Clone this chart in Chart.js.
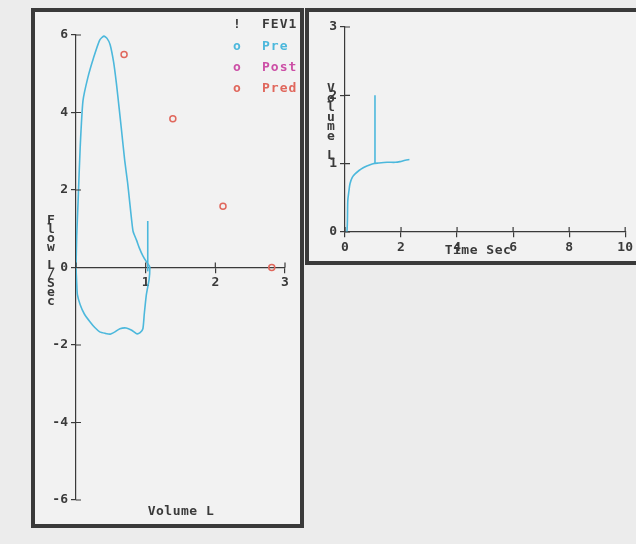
<!DOCTYPE html>
<html>
<head>
<meta charset="utf-8">
<script src="https://cdn.jsdelivr.net/npm/chart.js@4.4.0/dist/chart.umd.min.js"></script>
<style>
   body { margin: 0; background: #ececec; width: 636px; height: 544px; overflow: hidden; position: relative; }
   .box { position: absolute; border: 4px solid #3a3a3a; background: #f2f2f2; box-sizing: border-box; overflow: hidden; }
   #boxLeft { left: 31px; top: 8px; width: 273px; height: 520px; }
   #boxRight { left: 305px; top: 8px; width: 340px; height: 257px; }
   canvas { position: absolute; left: 0; top: 0; }
</style>
</head>
<body>
<div class="box" id="boxLeft"><canvas id="chart__loop" width="265" height="512"></canvas></div>
<div class="box" id="boxRight"><canvas id="chart__time" width="327" height="249"></canvas></div>
<script>
// FLOW-VOLUME LOOP (Pre)
const loopVolume = [0, 0.01, 0.03, 0.06, 0.1, 0.17, 0.25, 0.34, 0.4, 0.45, 0.49, 0.54, 0.58, 0.62, 0.65, 0.7, 0.74, 0.77, 0.8, 0.82, 0.87, 0.91, 0.96, 1.01, 1.05, 1.06,
   1.05, 1.01, 0.98, 0.96, 0.92, 0.87, 0.8, 0.72, 0.63, 0.56, 0.49, 0.42, 0.34, 0.27, 0.2, 0.12, 0.06, 0.02, 0.01, 0];
const loopFlow = [0, 0.8, 1.7, 3.1, 4.3, 4.9, 5.4, 5.87, 5.97, 5.9, 5.75, 5.3, 4.75, 4.1, 3.6, 2.75, 2.2, 1.7, 1.2, 0.93, 0.7, 0.5, 0.3, 0.15, 0.05, 0,
   -0.3, -0.7, -1.2, -1.58, -1.68, -1.71, -1.62, -1.56, -1.58, -1.66, -1.72, -1.7, -1.66, -1.55, -1.4, -1.2, -0.96, -0.7, -0.4, 0];

// FEV1 marker on the loop
const fev1LoopVolume = [1.03, 1.03];
const fev1LoopFlow = [-0.1, 1.2];

// Predicted points
const predVolume = [0.69, 1.39, 2.11, 2.81];
const predFlow = [5.5, 3.84, 1.58, 0];

// VOLUME-TIME CURVE (Pre)
const curveTime = [0, 0.07, 0.1, 0.14, 0.18, 0.26, 0.36, 0.5, 0.65, 0.8, 1.0, 1.2, 1.5, 1.8, 1.96, 2.15, 2.3];
const curveVolume = [0, 0.01, 0.46, 0.6, 0.71, 0.8, 0.85, 0.9, 0.94, 0.97, 1.0, 1.01, 1.02, 1.02, 1.03, 1.05, 1.06];
const fev1Time = [1.07, 1.07];
const fev1Volume = [1.0, 2.0];

// TICKS / LABELS
const loopFlowTicks = [-6, -4, -2, 0, 2, 4, 6];
const loopVolumeTicks = [0, 1, 2, 3];
const timeTicks = [0, 2, 4, 6, 8, 10];
const volumeTicks = [0, 1, 2, 3];
const legendSymbols = ["!", "o", "o", "o"];
const legendLabels = ["FEV1", "Pre", "Post", "Pred"];
const legendColors = ["#3a3a3a", "#4cb8dc", "#cc4fa6", "#e0675c"];

const CYAN = "#4cb8dc";
const INK = "#3a3a3a";
const FONT = '"DejaVu Sans Mono", monospace';

function pts(xs, ys) {
   return xs.map((x, i) => ({ x: x, y: ys[i] }));
}

// draws inward half of the ticks, stacked titles, flat titles and the legend
const decor = {
   id: "decor",
   afterDraw(chart, args, opts) {
      const ctx = chart.ctx;
      const sx = chart.scales.x;
      const sy = chart.scales.y;
      ctx.save();

      // ticks cross the axes
      const yLine = sy.getPixelForValue(0);
      const xLine = sx.getPixelForValue(0);
      ctx.strokeStyle = INK;
      ctx.lineWidth = 1.2;
      ctx.beginPath();
      sx.ticks.forEach((t) => {
         const px = sx.getPixelForValue(t.value);
         ctx.moveTo(px, yLine);
         ctx.lineTo(px, yLine - 5);
      });
      sy.ticks.forEach((t) => {
         const py = sy.getPixelForValue(t.value);
         ctx.moveTo(xLine, py);
         ctx.lineTo(xLine + 5, py);
      });
      ctx.stroke();

      ctx.textBaseline = "middle";
      (opts.items || []).forEach((it) => {
         ctx.font = "bold 13px " + FONT;
         ctx.fillStyle = it.color || INK;
         ctx.letterSpacing = it.spacing || "0px";
         ctx.textAlign = it.align || "center";
         if (it.step) {
            [...it.text].forEach((ch, i) => ctx.fillText(ch, it.x, it.y + i * it.step));
         } else {
            ctx.fillText(it.text, it.x, it.y);
         }
      });
      ctx.restore();
   },
};

function axisOpts(min, max, ticks, extra) {
   return Object.assign({
      type: "linear",
      min: min,
      max: max,
      afterBuildTicks: (s) => { s.ticks = ticks.map((v) => ({ value: v })); },
      grid: { drawOnChartArea: false, drawTicks: true, tickLength: 5, color: INK, lineWidth: 1.2 },
      border: { display: true, color: INK, width: 1.2 },
      ticks: { color: INK, font: { family: FONT, size: 13, weight: "bold" }, padding: 3, maxRotation: 0 },
   }, extra);
}

// CHART 1 -> Flow / Volume
const legendItems = [];
legendSymbols.forEach((s, i) => {
   legendItems.push({ text: s, x: 202, y: 13 + i * 21.3, color: legendColors[i] });
   legendItems.push({ text: legendLabels[i], x: 227, y: 13 + i * 21.3, color: legendColors[i], align: "left", spacing: "1px" });
});

new Chart(document.getElementById("chart__loop").getContext("2d"), {
   type: "scatter",
   data: {
      datasets: [
         { data: pts(loopVolume, loopFlow), showLine: true, borderColor: CYAN, borderWidth: 1.6, pointRadius: 0, tension: 0.2 },
         { data: pts(fev1LoopVolume, fev1LoopFlow), showLine: true, borderColor: CYAN, borderWidth: 1.6, pointRadius: 0 },
         { data: pts(predVolume, predFlow), showLine: false, pointRadius: 3, pointStyle: "circle", borderColor: "#e0675c", backgroundColor: "rgba(0,0,0,0)", borderWidth: 1.5 },
      ],
   },
   options: {
      responsive: false,
      animation: false,
      devicePixelRatio: 1,
      layout: { padding: { left: 0, top: 23, right: 15, bottom: 24 } },
      plugins: {
         legend: { display: false },
         tooltip: { enabled: false },
         decor: {
            items: [
               { text: "Flow L/Sec", x: 16, y: 209, step: 9 },
               { text: "Volume L", x: 146, y: 500, spacing: "0.5px" },
            ].concat(legendItems),
         },
      },
      scales: {
         x: axisOpts(0, 3, loopVolumeTicks, {
            position: { y: 0 },
            ticks: { color: INK, font: { family: FONT, size: 13, weight: "bold" }, padding: 2, maxRotation: 0,
               callback: (v) => (v === 0 ? "" : v) },
         }),
         y: axisOpts(-6, 6, loopFlowTicks, {
            position: "left",
            afterFit: (s) => { s.width = 41; },
         }),
      },
   },
   plugins: [decor],
});

// CHART 2 -> Volume / Time
new Chart(document.getElementById("chart__time").getContext("2d"), {
   type: "scatter",
   data: {
      datasets: [
         { data: pts(curveTime, curveVolume), showLine: true, borderColor: CYAN, borderWidth: 1.6, pointRadius: 0, tension: 0.3 },
         { data: pts(fev1Time, fev1Volume), showLine: true, borderColor: CYAN, borderWidth: 1.6, pointRadius: 0 },
      ],
   },
   options: {
      responsive: false,
      animation: false,
      devicePixelRatio: 1,
      layout: { padding: { left: 0, top: 15, right: 9, bottom: 29 } },
      plugins: {
         legend: { display: false },
         tooltip: { enabled: false },
         decor: {
            items: [
               { text: "Volume L", x: 22, y: 77, step: 9.5 },
               { text: "Time Sec", x: 169, y: 239, spacing: "0.5px" },
            ],
         },
      },
      scales: {
         x: axisOpts(0, 10, timeTicks, { position: { y: 0 } }),
         y: axisOpts(0, 3, volumeTicks, {
            position: "left",
            afterFit: (s) => { s.width = 36; },
         }),
      },
   },
   plugins: [decor],
});
</script>
</body>
</html>
